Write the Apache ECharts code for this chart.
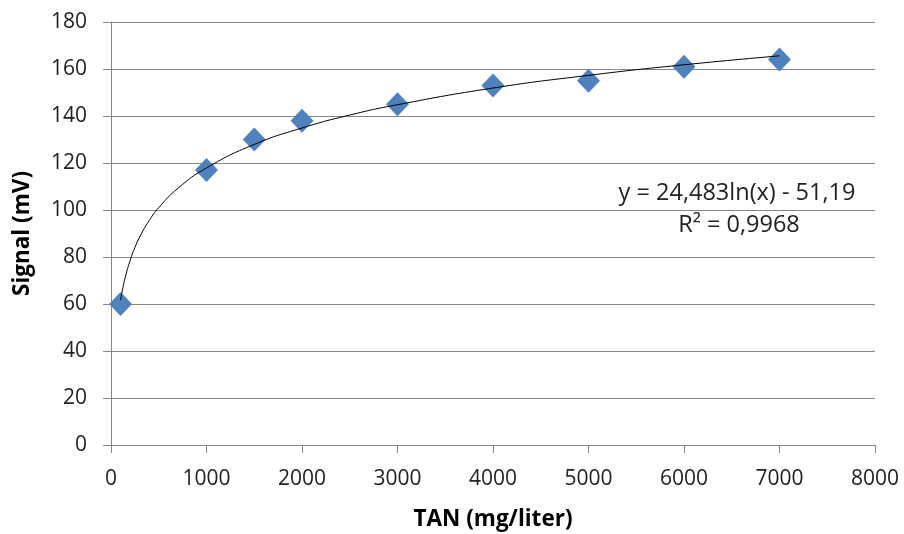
<!DOCTYPE html>
<html><head><meta charset="utf-8">
<script src="https://cdn.jsdelivr.net/npm/echarts@6/dist/echarts.min.js"></script>
<style>html,body{margin:0;padding:0;background:#fff}#c{width:904px;height:534px}</style>
</head><body><div id="c"></div>
<script>
const tanX = [100, 1000, 1500, 2000, 3000, 4000, 5000, 6000, 7000];
const signalY = [60, 117, 130, 138, 145, 153, 155, 161, 164];
// trend curve
const trendX = [100, 125, 150, 200, 250, 300, 400, 500, 700, 1000, 1500, 2000, 2500, 3000, 4000, 5000, 6000, 7000];
const trendY = [61.6, 67.0, 71.5, 78.5, 84.0, 88.5, 95.5, 101.0, 109.2, 117.9, 127.9, 134.9, 140.4, 144.8, 151.9, 157.3, 161.8, 165.6];
const eqLine1 = 'y = 24,483ln(x) - 51,19';
const eqLine2 = 'R² = 0,9968';
const xTitle = 'TAN (mg/liter)';
const yTitle = 'Signal (mV)';

const FONT = '"Open Sans", "Liberation Sans", sans-serif';
const chart = echarts.init(document.getElementById('c'));
chart.setOption({
  animation: false,
  grid: { left: 111, right: 29, top: 22, bottom: 89, containLabel: false, outerBoundsMode: 'none' },
  xAxis: {
    type: 'value', min: 0, max: 8000, interval: 1000,
    name: xTitle, nameLocation: 'middle', nameGap: 63,
    nameTextStyle: { fontFamily: FONT, fontSize: 22.5, fontWeight: 'bold', color: '#000' },
    axisLine: { show: true, lineStyle: { color: '#868686', width: 1 } },
    axisTick: { show: true, length: 8, inside: false, lineStyle: { color: '#868686' } },
    axisLabel: { fontFamily: FONT, fontSize: 21, color: '#222', margin: 24, formatter: v => String(v) },
    splitLine: { show: false }
  },
  yAxis: {
    type: 'value', min: 0, max: 180, interval: 20,
    name: yTitle, nameLocation: 'middle', nameGap: 77, nameRotate: 90,
    nameTextStyle: { fontFamily: FONT, fontSize: 22.5, fontWeight: 'bold', color: '#000' },
    axisLine: { show: true, lineStyle: { color: '#868686', width: 1 } },
    axisTick: { show: true, length: 8, inside: false, lineStyle: { color: '#868686' } },
    axisLabel: { fontFamily: FONT, fontSize: 21, color: '#222', margin: 24 },
    splitLine: { show: true, lineStyle: { color: '#868686', width: 1 } }
  },
  series: [
    {
      type: 'line', data: trendX.map((x, i) => [x, trendY[i]]),
      smooth: true, showSymbol: false, symbol: 'none',
      lineStyle: { color: '#000', width: 1 }, z: 3
    },
    {
      type: 'scatter', data: tanX.map((x, i) => [x, signalY[i]]),
      symbol: 'diamond', symbolSize: [23, 24],
      itemStyle: { color: '#4F81BD', opacity: 1 }, z: 2
    }
  ],
  graphic: [
    { type: 'text', style: { text: eqLine1, x: 737, y: 193, fontFamily: FONT, fontSize: 23.5, fill: '#222', align: 'center', verticalAlign: 'middle' } },
    { type: 'text', style: { text: eqLine2, x: 739, y: 225, fontFamily: FONT, fontSize: 23.5, fill: '#222', align: 'center', verticalAlign: 'middle' } }
  ]
});
</script></body></html>
